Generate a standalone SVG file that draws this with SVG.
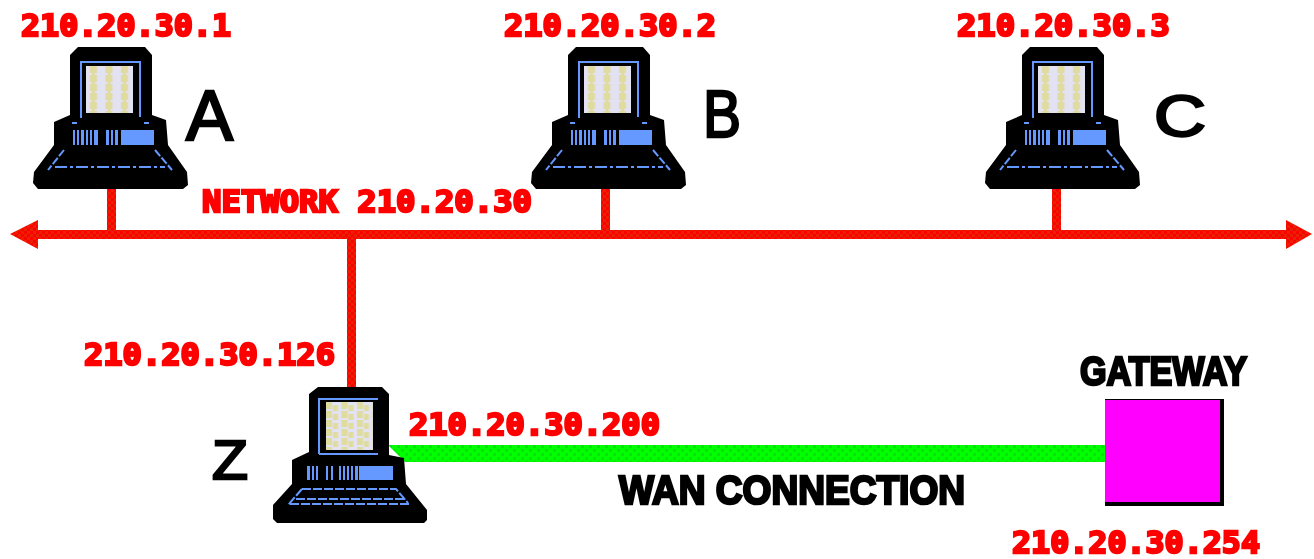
<svg xmlns="http://www.w3.org/2000/svg" width="1314" height="559" viewBox="0 0 1314 559">
<style>
.ip{font-family:"DejaVu Sans Mono","Liberation Mono",monospace;font-weight:700;font-size:31px;fill:#ff0000;stroke:#ff0000;stroke-width:2.4px}
.lbl{font-family:"Liberation Sans",Arial,sans-serif;font-weight:700;fill:#000;stroke:#000;stroke-width:2.6px}
.letter{font-family:"Liberation Sans",Arial,sans-serif;fill:#000;stroke:#000;stroke-width:2.4px}
.blue{fill:none;stroke:#6699ff;stroke-width:2}
.bluefill{fill:#6699ff}
</style>
<defs>
<filter id="soft" x="-5%" y="-5%" width="110%" height="110%"><feGaussianBlur stdDeviation="0.6"/></filter>
<pattern id="redp" width="6" height="6" patternUnits="userSpaceOnUse"><rect width="6" height="6" fill="#ff0000"/><rect x="0" y="0" width="3" height="3" fill="#e82000"/><rect x="3" y="3" width="3" height="3" fill="#e82000"/></pattern>
<pattern id="greenp" width="8" height="8" patternUnits="userSpaceOnUse"><rect width="8" height="8" fill="#00ff00"/><rect x="1" y="1" width="3" height="3" fill="#10e010"/><rect x="5" y="5" width="3" height="3" fill="#10e010"/></pattern>
<pattern id="scr" width="15.5" height="9" patternUnits="userSpaceOnUse" patternTransform="translate(86 66)"><rect width="15.5" height="9" fill="#e2e2f2"/><rect x="4" width="7" height="7" fill="#e0dca0"/><rect x="6" y="7" width="3" height="2" fill="#e0dca0"/></pattern>
<pattern id="scrz" width="15.5" height="9" patternUnits="userSpaceOnUse" patternTransform="translate(326 402)"><rect x="0" width="6" height="7" fill="#e0dca0"/><rect x="7" y="3" width="5" height="6" fill="#e0dca0"/></pattern>
<g id="monitor">
<path d="M78 47H145L152 55V115L166 120L168 145L187 172L188 185L183 189H38L33 183L34 172L54 145V122L70 115V55Z" fill="#000"/>
<rect x="86" y="66" width="47" height="47" fill="url(#scr)"/>
<path class="blue" d="M81 118V62H140V117"/>
<path class="blue" d="M72 123H77M144 123H149"/>
<path class="bluefill" d="M73 130h2v15h-2zM77 130h2v15h-2zM81 130h3v15h-3zM86 130h2v15h-2zM90 130h2v15h-2zM94 130h4v15h-4zM106 130h3v15h-3zM111 130h2v15h-2zM115 130h3v15h-3zM121 130h33v15h-33z"/>
<path class="blue" stroke-dasharray="8 2" d="M64 150L48 170M155 150L172 170"/>
<path class="blue" stroke-dasharray="12 3 3 3" d="M55 167H165"/>
</g>
<g id="desktop">
<path d="M318 387H382L389 394V455L404 458L406 484L427 510V520L424 523H277L273 519V505L292 484V460L309 452V394Z" fill="#000"/>
<rect x="326" y="402" width="47" height="48" fill="#e2e2f2"/>
<rect x="326" y="402" width="47" height="48" fill="url(#scrz)"/>
<path class="blue" d="M319 454V399H378M319 454H378"/>
<path class="bluefill" d="M307 466h3v14h-3zM312 466h2v14h-2zM316 466h2v14h-2zM326 466h2v14h-2zM331 466h2v14h-2zM339 466h2v14h-2zM343 466h2v14h-2zM347 466h2v14h-2zM351 466h2v14h-2zM355 466h3v14h-3zM359 466h34v14h-34z"/>
<path class="blue" stroke-dasharray="9 2" d="M302 489H396L408 503M302 489L288 505M296 499H405M290 504H410"/>
</g>
</defs>
<rect width="1314" height="559" fill="#fff"/>
<g filter="url(#soft)">
<g id="connectors">
<path fill="url(#redp)" d="M10 234L38 220V230H1286V220L1312 234L1286 249V239H38V249Z"/>
<rect x="107" y="188" width="9" height="44" fill="url(#redp)"/>
<rect x="601" y="188" width="9" height="44" fill="url(#redp)"/>
<rect x="1052" y="188" width="9" height="44" fill="url(#redp)"/>
<rect x="347" y="236" width="9" height="152" fill="url(#redp)"/>
<path fill="url(#greenp)" d="M388 445H1105V462H405Z"/>
</g>
<g id="node-a"><use href="#monitor"/><text class="letter" x="186" y="140" font-size="70" textLength="47" lengthAdjust="spacingAndGlyphs">A</text><text class="ip" x="21" y="36" textLength="210" lengthAdjust="spacingAndGlyphs">210.20.30.1</text></g>
<g id="node-b"><use href="#monitor" x="498"/><text class="letter" x="703" y="137" font-size="66" textLength="38" lengthAdjust="spacingAndGlyphs">B</text><text class="ip" x="504" y="36" textLength="212" lengthAdjust="spacingAndGlyphs">210.20.30.2</text></g>
<g id="node-c"><use href="#monitor" x="952"/><text class="letter" x="1154" y="136" font-size="58" textLength="52" lengthAdjust="spacingAndGlyphs">C</text><text class="ip" x="957" y="36" textLength="213" lengthAdjust="spacingAndGlyphs">210.20.30.3</text></g>
<g id="node-z"><use href="#desktop"/><text class="letter" x="212" y="479" font-size="56" textLength="36" lengthAdjust="spacingAndGlyphs">Z</text><text class="ip" x="84" y="365" textLength="251" lengthAdjust="spacingAndGlyphs">210.20.30.126</text><text class="ip" x="409" y="435" textLength="251" lengthAdjust="spacingAndGlyphs">210.20.30.200</text></g>
<g id="node-gateway"><rect x="1105" y="399" width="119" height="107" fill="#000"/><rect x="1105" y="400" width="115" height="102" fill="#ff00ff"/><text class="lbl" x="1080" y="385" font-size="41" textLength="167" lengthAdjust="spacingAndGlyphs">GATEWAY</text><text class="ip" x="1012" y="553" textLength="248" lengthAdjust="spacingAndGlyphs">210.20.30.254</text></g>
<g id="label-network"><text class="ip" x="202" y="212" textLength="330" lengthAdjust="spacingAndGlyphs">NETWORK 210.20.30</text></g>
<g id="label-wan"><text class="lbl" x="619" y="504" font-size="41" textLength="346" lengthAdjust="spacingAndGlyphs">WAN CONNECTION</text></g>
</g>
</svg>
